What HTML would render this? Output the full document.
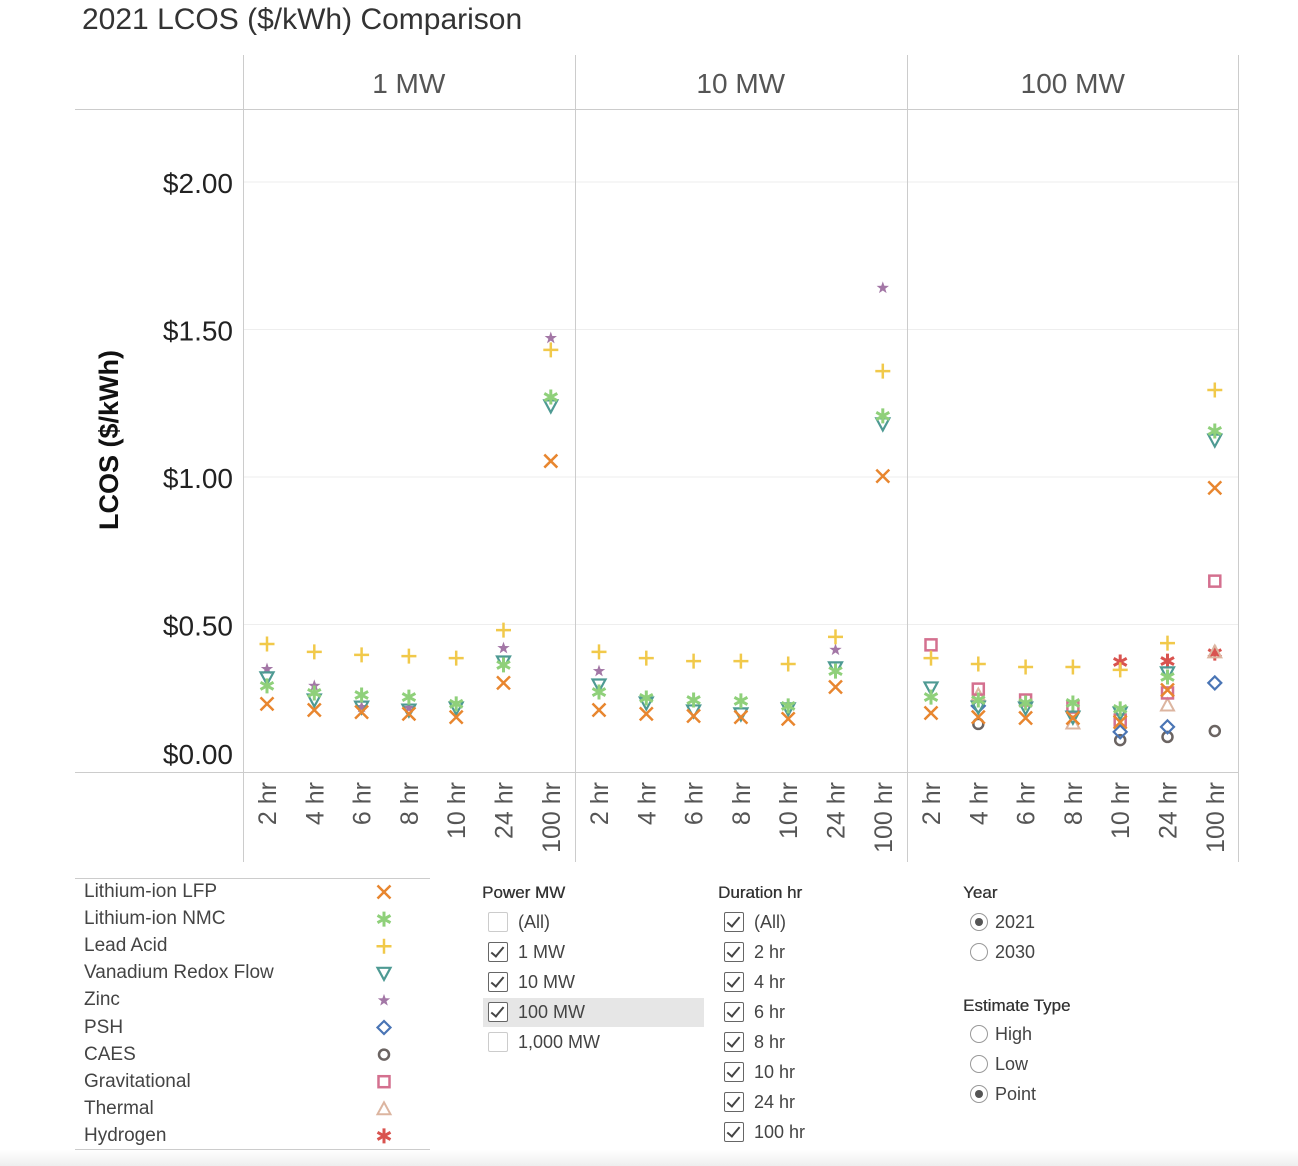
<!DOCTYPE html>
<html><head><meta charset="utf-8">
<style>
body{margin:0;width:1298px;height:1166px;background:#fff;font-family:"Liberation Sans",sans-serif;overflow:hidden;position:relative}
.t{position:absolute;white-space:nowrap;color:#444}
.cb{position:absolute;width:18px;height:18px;border:1px solid #666;border-radius:2px;background:#fff}
.cb.off{border-color:#ccc}
.cb:not(.off)::after{content:"";position:absolute;left:5px;top:1px;width:5px;height:11px;border:solid #444;border-width:0 2px 2px 0;transform:rotate(40deg)}
.rd{position:absolute;width:16px;height:16px;border:1px solid #999;border-radius:50%;background:#fff}
.rd.on::after{content:"";position:absolute;left:4px;top:4px;width:8px;height:8px;border-radius:50%;background:#555}
.ft{font-size:17px;color:#333;text-shadow:0.3px 0 0 #333}
</style></head><body>
<div class="t" style="left:82px;top:3px;font-size:30px;color:#333">2021 LCOS ($/kWh) Comparison</div>
<svg id="chart" width="1298" height="870" style="position:absolute;left:0;top:0"></svg>

<div style="position:absolute;left:75px;top:878px;width:355px;height:270px;border-top:1px solid #ccc;border-bottom:1px solid #ccc"></div>
<svg id="leg" width="1298" height="1166" style="position:absolute;left:0;top:0;pointer-events:none"></svg>

<div class="t ft" style="left:482px;top:883px">Power MW</div>
<div style="position:absolute;left:483px;top:998px;width:221px;height:29px;background:#e6e6e6"></div>
<div id="filters"></div>
<div class="t ft" style="left:718px;top:883px">Duration hr</div>
<div class="t ft" style="left:963px;top:883px">Year</div>
<div class="t ft" style="left:963px;top:996px">Estimate Type</div>
<div style="position:absolute;left:0;top:1150px;width:1298px;height:16px;background:linear-gradient(#fff,#eee)"></div>

<script>
const panels=["1 MW","10 MW","100 MW"];
const durations=["2 hr","4 hr","6 hr","8 hr","10 hr","24 hr","100 hr"];
const yTicks=[0,0.5,1,1.5,2];
const yTickLabels=["$0.00","$0.50","$1.00","$1.50","$2.00"];
const seriesNames=["Lithium-ion LFP","Lithium-ion NMC","Lead Acid","Vanadium Redox Flow","Zinc","PSH","CAES","Gravitational","Thermal","Hydrogen"];
const N=null;
const lfp=[.231,.210,.203,.197,.186,.302,1.054, .210,.197,.190,.186,.180,.288,1.003, .200,.186,.183,.183,.169,.278,.963];
const nmc=[.292,.268,.261,.254,.231,.363,1.271, .271,.251,.244,.241,.224,.342,1.207, .254,.244,.234,.234,.214,.322,1.156];
const lead=[.434,.407,.397,.393,.386,.481,1.431, .407,.386,.376,.376,.366,.458,1.359, .386,.366,.356,.356,.346,.437,1.295];
const vrf=[.319,.244,.220,.210,.217,.373,1.241, .295,.234,.207,.197,.214,.353,1.180, .285,.220,.217,.186,.200,.336,1.125];
const zinc=[.349,.292,.220,.217,N,.420,1.471, .342,N,N,N,N,.414,1.641, N,N,N,N,N,N,N];
const psh=[N,N,N,N,N,N,N, N,N,N,N,N,N,N, N,.224,N,N,.136,.153,.302];
const caes=[N,N,N,N,N,N,N, N,N,N,N,N,N,N, N,.163,N,N,.108,.119,.139];
const grav=[N,N,N,N,N,N,N, N,N,N,N,N,N,N, .431,.281,.244,.220,.176,.268,.647];
const thermal=[N,N,N,N,N,N,N, N,N,N,N,N,N,N, N,.261,N,.166,N,.227,.407];
const hydrogen=[N,N,N,N,N,N,N, N,N,N,N,N,N,N, N,N,N,N,.373,.376,.403];
const seriesData=[lfp,nmc,lead,vrf,zinc,psh,caes,grav,thermal,hydrogen];
const shapes=["x","ast","plus","tri","star","dia","circ","sq","tri2","ast6"];
const colors=["#e8862f","#8fd07a","#f1c94a","#4e9a93","#a377a6","#4a75b5","#6b6462","#d4708f","#dcb5a0","#d9534f"];

const NS="http://www.w3.org/2000/svg";
const svg=document.getElementById("chart");
const panelX=[243,575,907], panelW=331.5;
const y=v=>772-v*295;
const x=i=>{const p=Math.floor(i/7),d=i%7;return panelX[p]+24+d*47.3;};
function el(tag,attrs,parent){const e=document.createElementNS(NS,tag);for(const k in attrs)e.setAttribute(k,attrs[k]);(parent||svg).appendChild(e);return e;}
yTicks.forEach((t,i)=>{
  if(i>0){const g=el("line",{x1:243,x2:1238,y1:y(t),y2:y(t),stroke:"#eee","stroke-width":1});
  
  }
  const tx=el("text",{x:233,y:(i==0?y(t)-8:y(t)+11),"text-anchor":"end","font-size":28,fill:"#222","font-family":"Liberation Sans"});
  tx.textContent=yTickLabels[i];
  
  
});
el("line",{x1:75,x2:1238,y1:109.5,y2:109.5,stroke:"#ccc"});
el("line",{x1:75,x2:1238,y1:772.5,y2:772.5,stroke:"#ccc"});
[243.5,575.5,907.5,1238.5].forEach(px=>el("line",{x1:px,x2:px,y1:55,y2:862,stroke:"#ccc"}));
const yt=el("text",{transform:"translate(118,440) rotate(-90)","text-anchor":"middle","font-size":27,"font-weight":"bold",fill:"#111","font-family":"Liberation Sans"});
yt.textContent="LCOS ($/kWh)";


panels.forEach((p,i)=>{
  const h=el("text",{x:panelX[i]+panelW/2,y:93,"text-anchor":"middle","font-size":28,fill:"#555","font-family":"Liberation Sans"});
  h.textContent=p;
  
  
  durations.forEach((d,j)=>{
    const xx=x(i*7+j);
    const t=el("text",{transform:`translate(${xx+9},782) rotate(-90)`,"text-anchor":"end","font-size":25,fill:"#555","font-family":"Liberation Sans"});
    t.textContent=d;
    
    
  });
});
function marker(parent,shape,cx,cy,c){
  const g=el("g",{transform:`translate(${cx},${cy})`,stroke:c,fill:"none","stroke-width":2.5},parent);
  const s=6.5;
  if(shape=="x"){el("path",{d:`M${-s},${-s}L${s},${s}M${-s},${s}L${s},${-s}`},g);}
  else if(shape=="plus"){el("path",{d:`M${-s-1},0H${s+1}M0,${-s-1}V${s+1}`},g);}
  else if(shape=="ast"||shape=="ast6"){el("path",{d:`M0,${-s-1}V${s+1}M${-s},${-s/1.8}L${s},${s/1.8}M${-s},${s/1.8}L${s},${-s/1.8}`,"stroke-width":3},g);}
  else if(shape=="tri"){el("path",{d:`M${-s},${-s+1}H${s}L0,${s}Z`,"stroke-width":2.2},g);}
  else if(shape=="tri2"){el("path",{d:`M${-s},${s-1}H${s}L0,${-s}Z`,"stroke-width":2},g);}
  else if(shape=="star"){let d="";for(let k=0;k<10;k++){const r=k%2?2.6:6.5,a=-Math.PI/2+k*Math.PI/5;d+=(k?"L":"M")+(r*Math.cos(a)).toFixed(2)+","+(r*Math.sin(a)).toFixed(2);}el("path",{d:d+"Z",fill:c,stroke:"none"},g);}
  else if(shape=="dia"){el("path",{d:`M0,${-s}L${s},0L0,${s}L${-s},0Z`,"stroke-width":2.2},g);}
  else if(shape=="circ"){el("circle",{r:5,"stroke-width":2.5},g);}
  else if(shape=="sq"){el("rect",{x:-5.5,y:-5.5,width:11,height:11,"stroke-width":2.5},g);}
  return g;
}
for(let s=seriesData.length-1;s>=0;s--){
  seriesData[s].forEach((v,i)=>{
    if(v==null)return;
    const m=marker(svg,shapes[s],x(i),y(v),colors[s]);
    
    
  });
}
const leg=document.getElementById("leg");
seriesNames.forEach((n,i)=>{
  const yy=892+i*27.1;
  const t=document.createElement("div");
  t.className="t";t.style.cssText=`left:84px;top:${yy-11}px;font-size:19px;color:#444`;
  t.textContent=n;
  
  
  document.body.appendChild(t);
  marker(leg,shapes[i],384,yy,colors[i]);
});
const powerItems=["(All)","1 MW","10 MW","100 MW","1,000 MW"];
const powerChecked=[0,1,1,1,0];
const durItems=["(All)","2 hr","4 hr","6 hr","8 hr","10 hr","24 hr","100 hr"];
function addCheck(lx,ty,label,on){
  const b=document.createElement("div");b.className="cb"+(on?"":" off");b.style.left=lx+"px";b.style.top=(ty-10)+"px";
  
  
  document.body.appendChild(b);
  const t=document.createElement("div");t.className="t";t.style.cssText=`left:${lx+30}px;top:${ty-10}px;font-size:18px;color:#444`;t.textContent=label;
  
  
  document.body.appendChild(t);
}
powerItems.forEach((p,i)=>addCheck(488,922+i*30,p,powerChecked[i]));
durItems.forEach((p,i)=>addCheck(724,922+i*30,p,true));
function addRadio(ty,label,on){
  const r=document.createElement("div");r.className="rd"+(on?" on":"");r.style.left="970px";r.style.top=(ty-9)+"px";
  
  
  document.body.appendChild(r);
  const t=document.createElement("div");t.className="t";t.style.cssText=`left:995px;top:${ty-10}px;font-size:18px;color:#444`;t.textContent=label;
  
  
  document.body.appendChild(t);
}
addRadio(922,"2021",true);addRadio(952,"2030",false);
addRadio(1034,"High",false);addRadio(1064,"Low",false);addRadio(1094,"Point",true);
</script>
</body></html>
